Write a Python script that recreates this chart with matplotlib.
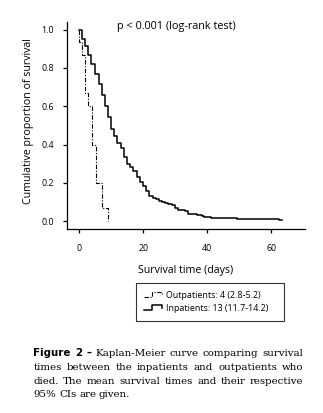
import matplotlib
matplotlib.use("Agg")
import matplotlib.pyplot as plt
from matplotlib.legend_handler import HandlerBase
from matplotlib.lines import Line2D

# ---------- DATA ----------
in_days = [0, 0.94, 1.88, 2.81, 3.75, 5.0, 6.04, 7.0, 8.1, 9.06, 9.9, 10.8,
           11.9, 12.9, 13.9, 14.9, 15.7, 16.7, 17.9, 19.0, 19.9, 20.8, 21.7,
           23.1, 23.9, 24.9, 25.7, 26.9, 27.8, 28.9, 30.0, 30.9, 33.0, 34.1,
           36.9, 38.2, 39.0, 41.1, 49.2, 62.3, 63.2]
in_surv = [1.0, 0.953, 0.915, 0.87, 0.82, 0.77, 0.715, 0.66, 0.60, 0.545,
           0.48, 0.445, 0.41, 0.38, 0.335, 0.30, 0.28, 0.26, 0.23, 0.205,
           0.185, 0.155, 0.13, 0.122, 0.113, 0.104, 0.099, 0.094, 0.089,
           0.082, 0.068, 0.056, 0.05, 0.036, 0.03, 0.024, 0.019, 0.014,
           0.009, 0.004, 0.004]

out_days = [0, 0, 0.94, 1.9, 2.8, 4.1, 5.1, 7.0, 9.1]
out_surv = [1.0, 0.933, 0.867, 0.667, 0.6, 0.4, 0.2, 0.067, 0.0]

legend_labels = ["Outpatients: 4 (2.8-5.2)", "Inpatients: 13 (11.7-14.2)"]
x_ticks = [0, 20, 40, 60]
y_ticks = [0.0, 0.2, 0.4, 0.6, 0.8, 1.0]

caption_lines = [
    "Figure 2 – Kaplan-Meier curve comparing survival",
    "times between the inpatients and outpatients who",
    "died. The mean survival times and their respective",
    "95% CIs are given.",
]

# ---------- STYLE ----------
W, H = 323, 413
plt.rcParams['font.family'] = ['Open Sans', 'DejaVu Sans']


class StepHandler(HandlerBase):
    # small step-shaped legend key
    def create_artists(self, legend, orig_handle, xdescent, ydescent,
                       width, height, fontsize, trans):
        x0, y0 = -xdescent, -ydescent
        xs = [x0, x0 + 0.45 * width, x0 + 0.45 * width, x0 + 0.95 * width, x0 + 0.95 * width]
        ys = [y0 + 0.1 * height, y0 + 0.1 * height, y0 + 0.85 * height,
              y0 + 0.85 * height, y0 + 0.45 * height]
        line = Line2D(xs, ys)
        line.update_from(orig_handle)
        line.set_clip_on(False)
        line.set_drawstyle('default')
        line.set_transform(trans)
        return [line]


fig = plt.figure(figsize=(W / 100, H / 100), dpi=100)
ax = fig.add_axes([66.7 / W, 183.7 / H, 238.3 / W, 207.3 / H])

l_out, = ax.step(out_days, out_surv, where='post', color='black',
                 lw=0.8, linestyle=(0, (4, 1.5, 1, 1.5)))
l_in, = ax.step(in_days, in_surv, where='post', color='black', lw=1.1)

ax.set_xlim(-3.94, 70.5)
ax.set_ylim(-0.043, 1.04)
ax.set_xticks(x_ticks)
ax.set_yticks(y_ticks)
ax.set_yticklabels([f"{v:.1f}" for v in y_ticks])
for s in ['top', 'right']:
    ax.spines[s].set_visible(False)
for s in ['left', 'bottom']:
    ax.spines[s].set_linewidth(0.9)
ax.tick_params(direction='out', length=3, width=0.9, labelsize=6.4)
ax.tick_params(axis='y', pad=6.3)
ax.tick_params(axis='x', pad=7.5)

ax.set_xlabel("Survival time (days)", fontsize=7.7)
ax.xaxis.set_label_coords(0.5, -0.172)
ax.set_ylabel("Cumulative proportion of survival", fontsize=7.7)
ax.yaxis.set_label_coords(-0.136, 0.52)

ax.text(0.459, 0.977, "p < 0.001 (log-rank test)", transform=ax.transAxes,
        ha='center', va='center', fontsize=7.8)

leg = fig.legend([l_out, l_in], legend_labels, loc='center', mode='expand',
                 bbox_to_anchor=(136 / W, 92.3 / H, 148.3 / W, 38 / H),
                 fontsize=6.4, handler_map={Line2D: StepHandler()},
                 handlelength=2.1, handletextpad=0.35, frameon=True,
                 fancybox=False, borderpad=0.9, labelspacing=0.45,
                 borderaxespad=0)
leg.get_frame().set_edgecolor('black')
leg.get_frame().set_linewidth(0.8)

# ---------- CAPTION (justified) ----------
renderer = fig.canvas.get_renderer()
left, right = 33.3, 303.3
baselines = [57.3, 43.4, 29.5, 15.6]
for i, line in enumerate(caption_lines):
    words = line.split()
    texts = []
    for j, w in enumerate(words):
        bold = i == 0 and j < 3
        t = fig.text(0, baselines[i] / H, w, va='baseline', ha='left',
                     fontsize=7.4,
                     family='DejaVu Sans' if bold else 'DejaVu Serif',
                     fontweight='heavy' if bold else 'normal')
        texts.append(t)
    widths = [t.get_window_extent(renderer).width for t in texts]
    if i < len(caption_lines) - 1:
        gap = (right - left - sum(widths)) / (len(words) - 1)
    else:
        gap = 2.8
    x = left
    for t, wd in zip(texts, widths):
        t.set_x(x / W)
        x += wd + gap

fig.savefig("out.png", dpi=100)
